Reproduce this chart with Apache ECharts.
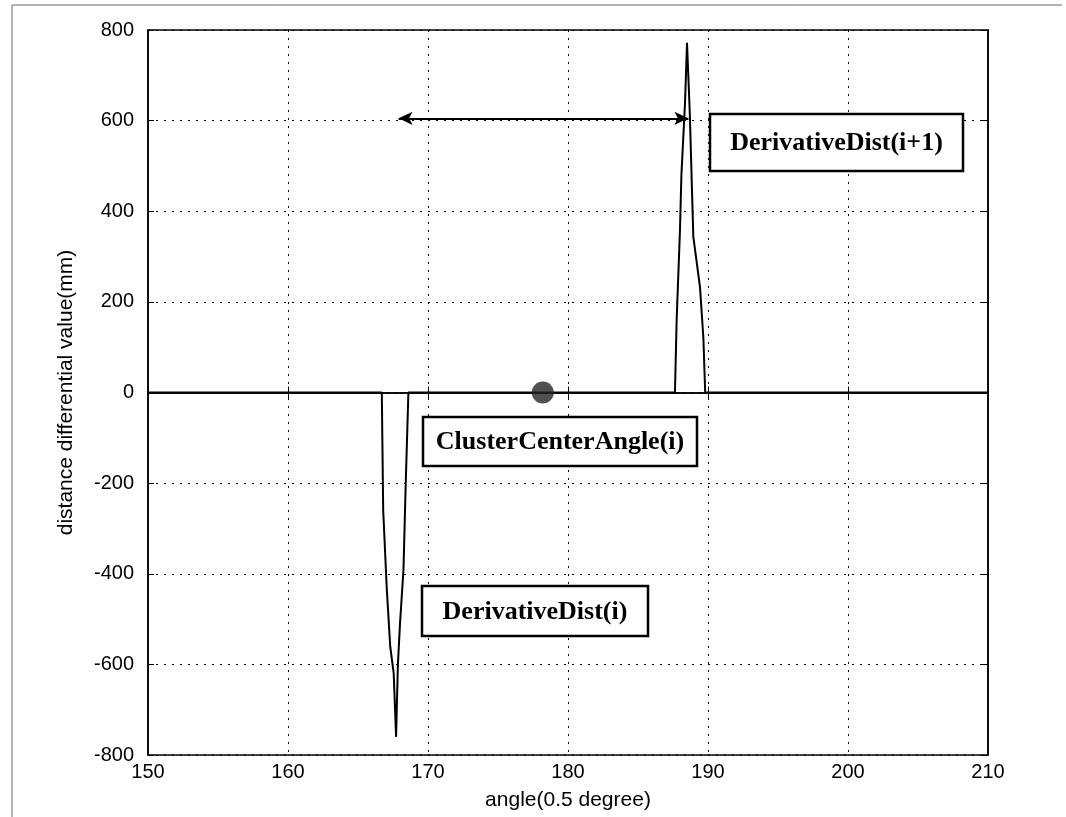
<!DOCTYPE html>
<html>
<head>
<meta charset="utf-8">
<script src="https://cdn.jsdelivr.net/npm/echarts@6/dist/echarts.min.js"></script>
<style>
html,body{margin:0;padding:0;background:#fff;}
#chart{width:1066px;height:817px;}
</style>
</head>
<body>
<div id="chart"></div>
<script>
// angle (0.5 degree) samples and distance differential values (mm)
const angles = [150, 166.7, 166.8, 167.05, 167.3, 167.55, 167.72, 167.85, 168.0, 168.25, 168.4, 168.6,
                187.64, 187.76, 188.0, 188.1, 188.36, 188.5, 188.7, 188.95, 189.43, 189.67, 189.8, 210];
const diffValues = [0, 0, -260, -430, -560, -620, -760, -600, -510, -390, -210, 0,
                    0, 160, 360, 480, 640, 772, 616, 344, 232, 120, 0, 0];
const clusterCenter = [178.2, 0];
const arrowSpan = [[167.9, 605], [188.6, 605]];
const xTicks = [150, 160, 170, 180, 190, 200, 210];
const yTicks = [-800, -600, -400, -200, 0, 200, 400, 600, 800];
const labels = {
  right: 'DerivativeDist(i+1)',
  center: 'ClusterCenterAngle(i)',
  left: 'DerivativeDist(i)'
};

const lineData = angles.map((a, i) => [a, diffValues[i]]);
const chart = echarts.init(document.getElementById('chart'));

const tickFont = {fontFamily: 'Liberation Sans, Arial', fontSize: 20, color: '#000'};
const nameFont = {fontFamily: 'Liberation Sans, Arial', fontSize: 21, color: '#000'};
const grid = {left: 148, right: 78, top: 30, bottom: 62, show: true, borderColor: '#000', borderWidth: 1.5, backgroundColor: 'transparent'};

function boxGraphic(x, y, w, h, text) {
  return [
    {type: 'rect', shape: {x: x, y: y, width: w, height: h}, style: {fill: '#fff', stroke: '#000', lineWidth: 2.5}, z: 100},
    {type: 'text', x: x + w / 2, y: y + h / 2 + 1, style: {text: text, font: 'bold 26px "Liberation Serif", "Times New Roman", serif', fill: '#000', textAlign: 'center', textVerticalAlign: 'middle'}, z: 101}
  ];
}

chart.setOption({
  animation: false,
  backgroundColor: '#fff',
  grid: grid,
  xAxis: [{
    type: 'value', min: 150, max: 210, interval: 10,
    name: 'angle(0.5 degree)', nameLocation: 'middle', nameGap: 35,
    nameTextStyle: nameFont,
    axisLine: {lineStyle: {color: '#000', width: 1.5}},
    axisTick: {inside: true, length: 6, lineStyle: {color: '#000'}},
    axisLabel: Object.assign({margin: 7}, tickFont),
    splitLine: {show: true, lineStyle: {color: '#000', type: [2, 6], width: 1}}
  }, {
    type: 'value', min: 150, max: 210, interval: 10, position: 'top',
    axisLine: {lineStyle: {color: '#000', width: 1.5}},
    axisTick: {inside: true, length: 6, lineStyle: {color: '#000'}},
    axisLabel: {show: false}, splitLine: {show: false}
  }],
  yAxis: [{
    type: 'value', min: -800, max: 800, interval: 200,
    name: 'distance differential value(mm)', nameLocation: 'middle', nameGap: 71, nameRotate: 90,
    nameTextStyle: nameFont,
    axisLine: {lineStyle: {color: '#000', width: 1.5}},
    axisTick: {inside: true, length: 6, lineStyle: {color: '#000'}},
    axisLabel: Object.assign({margin: 14}, tickFont),
    splitLine: {show: true, lineStyle: {color: '#000', type: [2, 6], width: 1}}
  }, {
    type: 'value', min: -800, max: 800, interval: 200, position: 'right',
    axisLine: {lineStyle: {color: '#000', width: 1.5}},
    axisTick: {inside: true, length: 6, lineStyle: {color: '#000'}},
    axisLabel: {show: false}, splitLine: {show: false}
  }],
  series: [{
    type: 'line',
    data: lineData,
    showSymbol: false,
    lineStyle: {color: '#000', width: 2},
    z: 5,
    markLine: {
      silent: true,
      symbol: ['arrow', 'arrow'],
      symbolSize: [10, 14],
      label: {show: false},
      lineStyle: {color: '#000', width: 2, type: 'solid'},
      data: [[{coord: arrowSpan[0]}, {coord: arrowSpan[1]}]]
    }
  }, {
    type: 'scatter',
    data: [clusterCenter],
    symbol: 'circle',
    symbolSize: 22,
    itemStyle: {color: '#262626'},
    z: 6
  }],
  graphic: [
    {type: 'polyline', shape: {points: [[12, 817], [12, 5], [1062, 5]]}, style: {stroke: '#666', lineWidth: 1, fill: null}, z: 0}
  ].concat(
    boxGraphic(710, 114, 253, 57, labels.right),
    boxGraphic(423, 417, 274, 49, labels.center),
    boxGraphic(422, 586, 226, 50, labels.left)
  )
});
</script>
</body>
</html>
